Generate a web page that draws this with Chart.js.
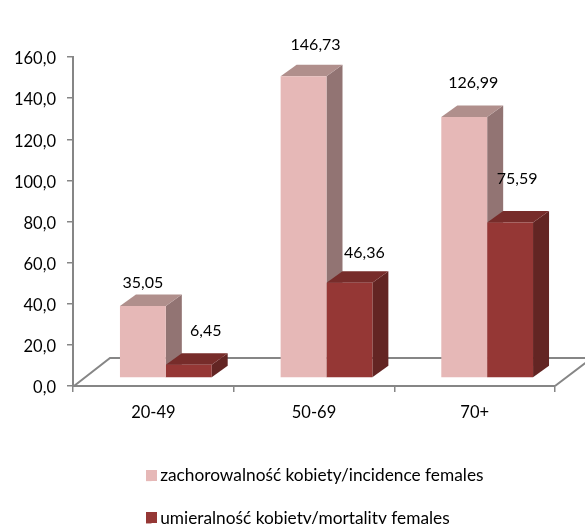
<!DOCTYPE html>
<html>
<head>
<meta charset="utf-8">
<style>
html, body { margin: 0; padding: 0; background: #fff; overflow: hidden; }
canvas { display: block; }
</style>
<script src="https://cdn.jsdelivr.net/npm/chart.js@4"></script>
</head>
<body>
<canvas id="chart" width="585" height="524"></canvas>
<script>
const categories = ['20-49', '50-69', '70+'];
const incidence = [35.05, 146.73, 126.99];
const mortality = [6.45, 46.36, 75.59];
const seriesNames = ['zachorowalność kobiety/incidence females', 'umieralność kobiety/mortality females'];
const yTicks = [0, 20, 40, 60, 80, 100, 120, 140, 160];

// hand placed labels, same as in the original chart (px from top centre of the front face)
const incidenceLabelOffset = [[0, -23], [12, -31], [9, -34]];
const mortalityLabelOffset = [[17, -34], [15, -30], [7, -44]];

const FONT = 'Lato';
const AXIS = '#868686';
const BAR_SHIFT = { x: 12.5, y: -8 };  // bars stand in the middle of the floor
const BAR_DEPTH = { x: 16, y: -11.5 };
const FLOOR_DEPTH = { x: 37, y: -28 };
const LEGEND_PADDING = 25;
const LEGEND_FONT = 17;
const LEGEND_SWATCH = 11;

const faces = [
    { front: '#E6B8B7', top: '#B08F8C', side: '#927473' },
    { front: '#953735', top: '#772C2A', side: '#632523' }
];

function poly(ctx, color, pts) {
    ctx.fillStyle = color;
    ctx.beginPath();
    pts.forEach((p, i) => i ? ctx.lineTo(p[0], p[1]) : ctx.moveTo(p[0], p[1]));
    ctx.closePath();
    ctx.fill();
}

const bars3d = {
    id: 'bars3d',
    afterLayout(chart) {
        chart.legend.left = 146 - LEGEND_PADDING;
        chart.legend.top = 467 - LEGEND_PADDING;
    },
    beforeDatasetsDraw(chart) {
        const ctx = chart.ctx;
        const a = chart.chartArea;

        // floor
        ctx.save();
        ctx.strokeStyle = AXIS;
        ctx.lineWidth = 2;
        ctx.beginPath();
        ctx.moveTo(a.left + 1, a.bottom);
        ctx.lineTo(a.left + FLOOR_DEPTH.x, a.bottom + FLOOR_DEPTH.y);
        ctx.lineTo(a.right + FLOOR_DEPTH.x, a.bottom + FLOOR_DEPTH.y);
        ctx.lineTo(a.right, a.bottom);
        ctx.stroke();
        ctx.restore();

        ctx.save();
        ctx.translate(BAR_SHIFT.x, BAR_SHIFT.y);
        const dx = BAR_DEPTH.x, dy = BAR_DEPTH.y;
        chart.data.datasets.forEach((ds, i) => {
            chart.getDatasetMeta(i).data.forEach(bar => {
                const l = bar.x - bar.width / 2, r = bar.x + bar.width / 2;
                poly(ctx, faces[i].side, [[r, bar.y], [r + dx, bar.y + dy], [r + dx, bar.base + dy], [r, bar.base]]);
                poly(ctx, faces[i].top, [[l, bar.y], [l + dx, bar.y + dy], [r + dx, bar.y + dy], [r, bar.y]]);
            });
        });
    },
    afterDatasetsDraw(chart) {
        const ctx = chart.ctx;
        ctx.restore();

        ctx.save();
        ctx.font = '16px ' + FONT;
        ctx.fillStyle = '#000';
        ctx.textAlign = 'center';
        ctx.textBaseline = 'middle';
        const offsets = [incidenceLabelOffset, mortalityLabelOffset];
        chart.data.datasets.forEach((ds, i) => {
            chart.getDatasetMeta(i).data.forEach((bar, j) => {
                const txt = ds.data[j].toFixed(2).replace('.', ',');
                ctx.fillText(txt, bar.x + BAR_SHIFT.x + offsets[i][j][0], bar.y + BAR_SHIFT.y + offsets[i][j][1]);
            });
        });
        ctx.restore();
    },
    afterDraw(chart) {
        // legend gap is tied to font size in Chart.js, so the native box is narrow and gets widened here
        const ctx = chart.ctx;
        const lg = chart.legend;
        const rowStep = LEGEND_FONT + LEGEND_PADDING;
        faces.forEach((f, i) => {
            ctx.fillStyle = f.front;
            const y = lg.top + LEGEND_PADDING + i * rowStep + (LEGEND_FONT - LEGEND_SWATCH) / 2;
            ctx.fillRect(lg.left + LEGEND_PADDING, y, LEGEND_SWATCH, LEGEND_SWATCH);
        });
    }
};

new Chart(document.getElementById('chart'), {
    type: 'bar',
    data: {
        labels: categories,
        datasets: [
            { label: seriesNames[0], data: incidence, backgroundColor: faces[0].front, borderWidth: 0 },
            { label: seriesNames[1], data: mortality, backgroundColor: faces[1].front, borderWidth: 0 }
        ]
    },
    plugins: [bars3d],
    options: {
        responsive: false,
        animation: false,
        events: [],
        devicePixelRatio: 1,
        layout: { padding: { left: 0, right: 30, top: 57, bottom: 0 } },
        datasets: { bar: { categoryPercentage: 0.571, barPercentage: 1, clip: false } },
        plugins: {
            tooltip: { enabled: false },
            legend: {
                position: 'bottom',
                align: 'start',
                labels: {
                    boxWidth: 5.5,
                    boxHeight: LEGEND_SWATCH,
                    padding: LEGEND_PADDING,
                    color: '#000',
                    font: { family: FONT, size: LEGEND_FONT + 0.3 }
                }
            }
        },
        scales: {
            x: {
                afterFit: s => { s.height = 138 - s.chart.legend.height; },
                border: { color: AXIS, width: 2 },
                grid: { drawOnChartArea: false, color: AXIS, lineWidth: 1.5, tickLength: 6 },
                ticks: { color: '#000', padding: 11, maxRotation: 0, font: { family: FONT, size: 16.5 } }
            },
            y: {
                min: 0,
                max: 160,
                afterFit: s => { s.width = 73; },
                afterBuildTicks: s => { s.ticks = yTicks.map(v => ({ value: v })); },
                border: { color: AXIS, width: 2 },
                grid: { drawOnChartArea: false, color: AXIS, lineWidth: 1.5, tickLength: 6 },
                ticks: {
                    color: '#000',
                    padding: 11,
                    labelOffset: 2,
                    font: { family: FONT, size: 16.5 },
                    callback: v => v.toFixed(1).replace('.', ',')
                }
            }
        }
    }
});
</script>
</body>
</html>
